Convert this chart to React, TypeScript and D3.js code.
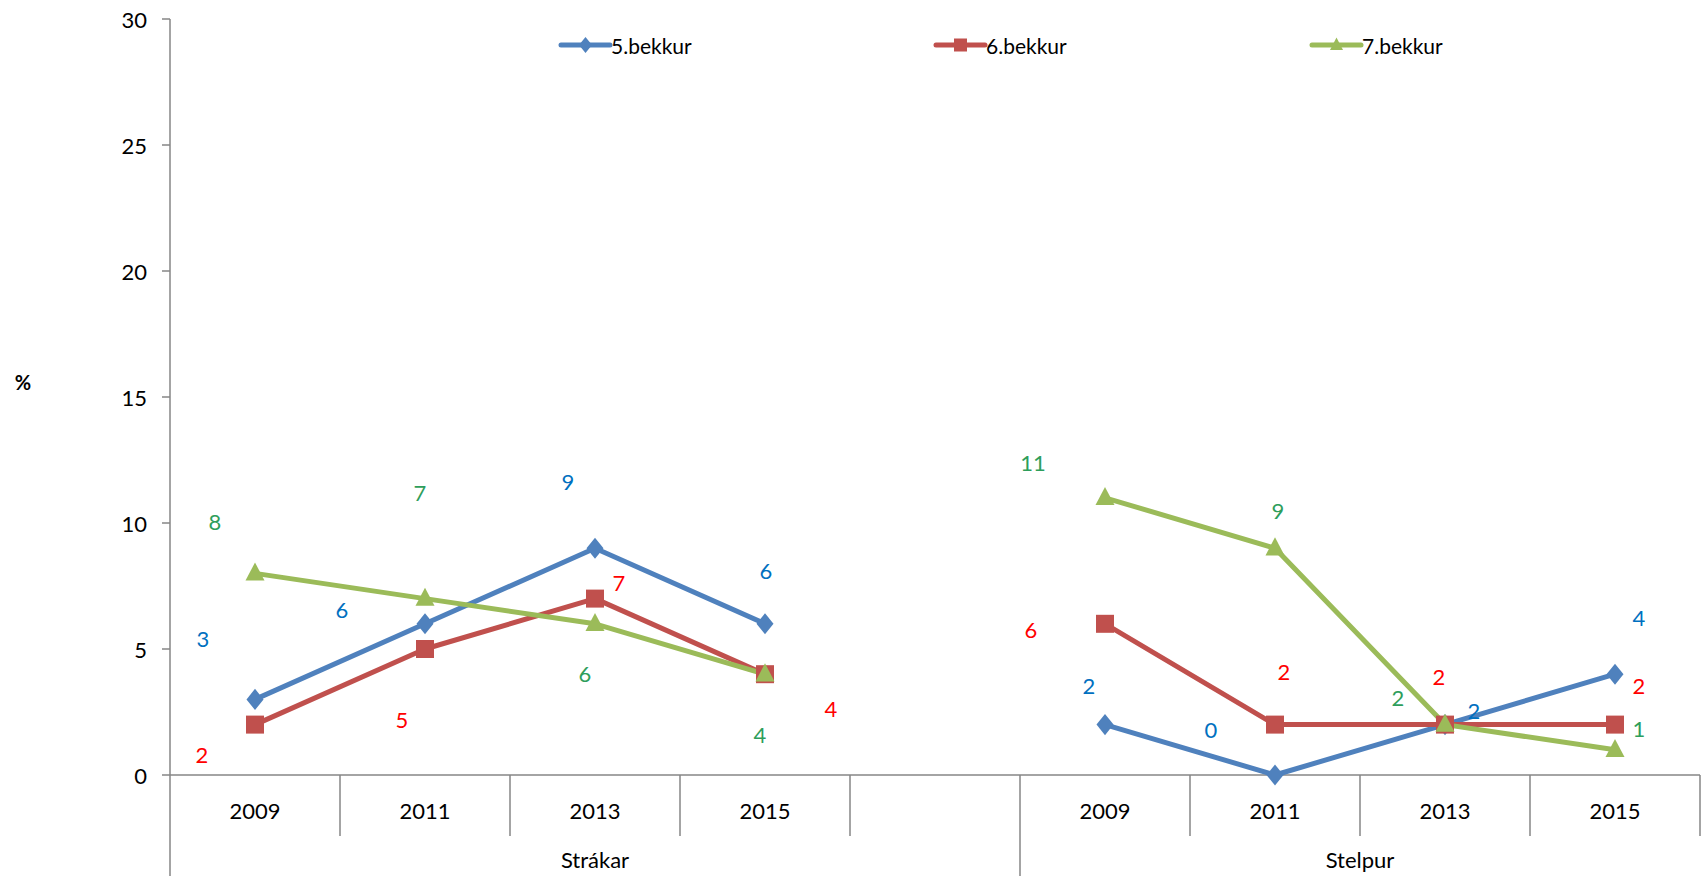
import React from "react";
import * as d3 from "d3";

const groups = ["Strákar", "Stelpur"];
const groupYears: string[][] = [
  ["2009", "2011", "2013", "2015", ""],
  ["2009", "2011", "2013", "2015"],
];
const yTicks = [0, 5, 10, 15, 20, 25, 30];
const seriesNames = ["5.bekkur", "6.bekkur", "7.bekkur"];
// values per category (9 categories: 5 Strákar incl. blank, 4 Stelpur)
const bekkur5 = [3, 6, 9, 6, null, 2, 0, 2, 4];
const bekkur6 = [2, 5, 7, 4, null, 6, 2, 2, 2];
const bekkur7 = [8, 7, 6, 4, null, 11, 9, 2, 1];

// label offsets (px) relative to each point - style, not data
const labelOffsets5 = [[-52, -61], [-83, -14], [-27, -67], [1, -53], null, [-16, -39], [-64, -46], [29, -14], [24, -57]];
const labelOffsets6 = [[-53, 30], [-23, 70], [24, -16], [66, 34], null, [-74, 6], [9, -53], [-6, -48], [24, -39]];
const labelOffsets7 = [[-40, -52], [-5, -106], [-10, 50], [-5, 60], null, [-72, -35], [3, -38], [-47, -27], [24, -21]];

const lineColors = ["#4F81BD", "#C0504D", "#9BBB59"];
const labelColors = ["#0070C0", "#FF0000", "#2E9E5B"];
const FONT = "Lato, 'Open Sans', sans-serif";
const FS = 22;

function Marker({ kind, x, y, s, color }: { kind: number; x: number; y: number; s: number; color: string }) {
  if (kind === 0) {
    const h = s * 0.62;
    const w = s * 0.5;
    return <path d={`M${x},${y - h} L${x + w},${y} L${x},${y + h} L${x - w},${y} Z`} fill={color} />;
  }
  if (kind === 1) {
    return <rect x={x - s / 2} y={y - s / 2} width={s} height={s} fill={color} />;
  }
  const hh = s * 0.95;
  return <path d={`M${x},${y - hh * 0.6} L${x + s / 2},${y + hh * 0.4} L${x - s / 2},${y + hh * 0.4} Z`} fill={color} />;
}

export default function App() {
  const W = 1702, H = 876;
  const left = 170, right = 1700, top = 19, bottom = 775;
  const rowBottom = 836;
  const keys: string[] = [];
  const keyYear: string[] = [];
  const keyGroup: number[] = [];
  groups.forEach((g, gi) => groupYears[gi].forEach((yr, i) => { keys.push(`${g}-${i}`); keyYear.push(yr); keyGroup.push(gi); }));
  const x = d3.scaleBand<string>().domain(keys).range([left, right]).padding(0);
  const y = d3.scaleLinear().domain([0, 30]).range([bottom, top]);
  const cx = (i: number) => (x(keys[i]) as number) + x.bandwidth() / 2;

  const allSeries = [bekkur5, bekkur6, bekkur7];
  const allOffsets = [labelOffsets5, labelOffsets6, labelOffsets7];
  const line = d3.line<number | null>()
    .defined((d) => d !== null)
    .x((_, i) => cx(i))
    .y((d) => y(d as number));

  const axisColor = "#868686";
  const groupStart = groups.map((_, gi) => keys.findIndex((_, k) => keyGroup[k] === gi));
  const groupEnd = groups.map((_, gi) => {
    let last = 0;
    keys.forEach((_, k) => { if (keyGroup[k] === gi) last = k; });
    return last;
  });

  const legendX = [561, 936, 1312];
  const legendY = 45;
  const markerSize = [17, 18, 19];
  const legendMarkerSize = [13, 13, 13];

  return (
    <svg width={W} height={H} style={{ position: "absolute", left: 0, top: 0, background: "#fff" }} fontFamily={FONT}>
      {/* y axis */}
      <line x1={left} y1={top} x2={left} y2={H} stroke={axisColor} strokeWidth={1.5} />
      {yTicks.map((t) => (
        <g key={t}>
          <line x1={left - 8} x2={left} y1={y(t)} y2={y(t)} stroke={axisColor} strokeWidth={1.5} />
          <text x={147} y={y(t)} textAnchor="end" dominantBaseline="central" fontSize={FS} fill="#000">{t}</text>
        </g>
      ))}
      <text x={23} y={382} textAnchor="middle" dominantBaseline="central" fontSize={20} fontWeight="bold" fill="#000">%</text>

      {/* x axis */}
      <line x1={left} y1={bottom} x2={right} y2={bottom} stroke={axisColor} strokeWidth={1.5} />
      {keys.map((k, i) => {
        const bx = (x(k) as number) + x.bandwidth();
        const isGroupEnd = groupEnd.includes(i) && i !== keys.length - 1;
        return (
          <line key={`sep-${k}`} x1={bx} x2={bx} y1={bottom} y2={isGroupEnd ? H : rowBottom} stroke={axisColor} strokeWidth={1.5} />
        );
      })}
      {keys.map((k, i) => (
        <text key={`yr-${k}`} x={cx(i)} y={810} textAnchor="middle" dominantBaseline="central" fontSize={FS} fill="#000">{keyYear[i]}</text>
      ))}
      {groups.map((g, gi) => {
        const x0 = x(keys[groupStart[gi]]) as number;
        const x1 = (x(keys[groupEnd[gi]]) as number) + x.bandwidth();
        return (
          <text key={g} x={(x0 + x1) / 2} y={859} textAnchor="middle" dominantBaseline="central" fontSize={FS} fill="#000">{g}</text>
        );
      })}

      {/* series lines */}
      {allSeries.map((s, si) => (
        <path key={`l-${si}`} d={line(s) || ""} fill="none" stroke={lineColors[si]} strokeWidth={5} strokeLinejoin="round" />
      ))}
      {allSeries.map((s, si) =>
        s.map((v, i) => (v === null ? null : (
          <Marker key={`m-${si}-${i}`} kind={si} x={cx(i)} y={y(v)} s={markerSize[si]} color={lineColors[si]} />
        )))
      )}
      {/* data labels */}
      {allSeries.map((s, si) =>
        s.map((v, i) => {
          const off = allOffsets[si][i];
          if (v === null || !off) return null;
          return (
            <text key={`t-${si}-${i}`} x={cx(i) + off[0]} y={y(v) + off[1]} textAnchor="middle" dominantBaseline="central" fontSize={FS} fill={labelColors[si]}>{v}</text>
          );
        })
      )}

      {/* legend */}
      {seriesNames.map((n, si) => (
        <g key={n}>
          <line x1={legendX[si]} x2={legendX[si] + 49} y1={legendY} y2={legendY} stroke={lineColors[si]} strokeWidth={5} strokeLinecap="round" />
          <Marker kind={si} x={legendX[si] + 24.5} y={legendY} s={legendMarkerSize[si]} color={lineColors[si]} />
          <text x={legendX[si] + 50} y={legendY} dominantBaseline="central" fontSize={FS - 1} fill="#000">{n}</text>
        </g>
      ))}
    </svg>
  );
}
